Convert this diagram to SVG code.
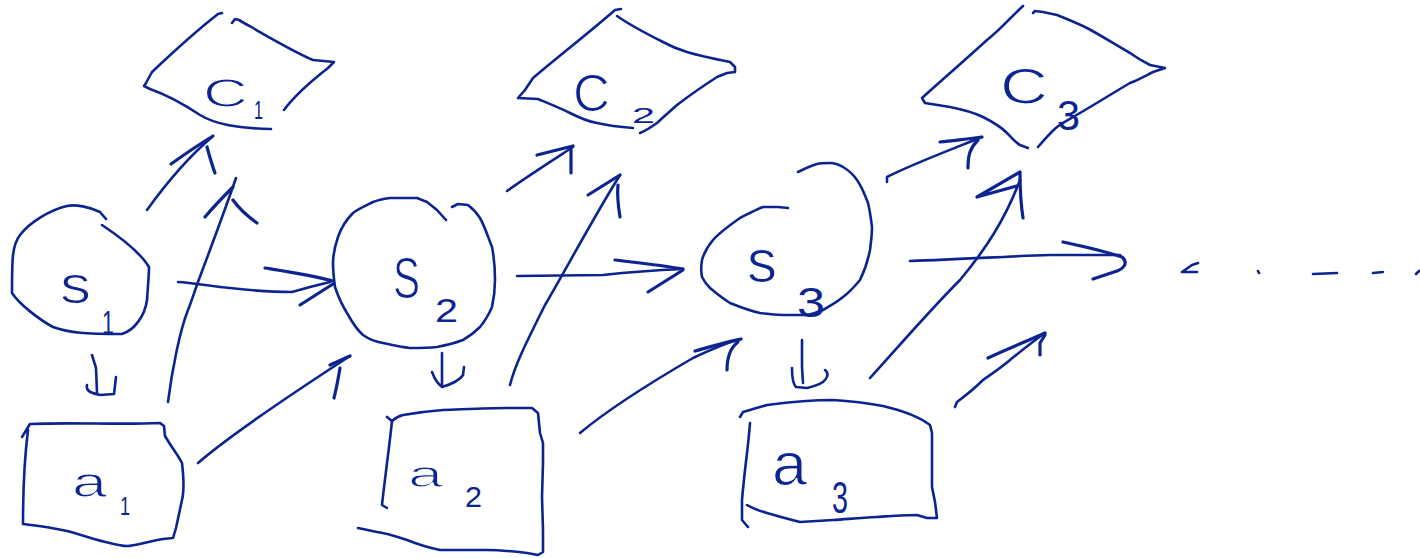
<svg xmlns="http://www.w3.org/2000/svg" width="1420" height="558" viewBox="0 0 1420 558">
<style>
.ink{fill:none;stroke:#0c2490;stroke-width:2.6;stroke-linecap:round;stroke-linejoin:round}
.head{fill:none;stroke:#0c2490;stroke-width:3.2;stroke-linecap:round;stroke-linejoin:round}
.lbl{fill:#0c2490;font-family:"Liberation Sans","DejaVu Sans",sans-serif;font-weight:normal}
.big{stroke:#ffffff;stroke-width:1.1}
</style>
<rect width="1420" height="558" fill="#ffffff"/>
<g id="c1">
<path class="ink" d="M222,13 L218,14 C200,28 170,55 152,72 L146,83 L144,86 L150,89 C170,96 185,105 200,115 C215,124 235,128 271,129"/>
<path class="ink" d="M232,23 L235,19 L239,20 C260,32 290,50 313,60 L334,62 L328,68 C310,82 295,95 284,110"/>
<text class="lbl big" x="203" y="107" font-size="40" textLength="45" lengthAdjust="spacingAndGlyphs">C</text>
<text class="lbl" x="254" y="119" font-size="26" textLength="9" lengthAdjust="spacingAndGlyphs">1</text>
</g>
<g id="c2">
<path class="ink" d="M621,9 L615,10 C590,32 560,55 533,78 L525,90 L518,98 L538,99 C550,104 560,108 570,113 C580,118 590,122 597,123 C610,126 620,127 633,128"/>
<path class="ink" d="M617,16 C630,25 645,33 663,42 C672,47 680,50 687,52 C700,56 715,59 730,62 L735,67 L735,72 L727,73 L717,77 C700,88 690,95 677,105 C668,113 662,118 657,123 C650,128 645,131 640,133"/>
<text class="lbl big" x="573" y="111" font-size="52" textLength="37" lengthAdjust="spacingAndGlyphs">C</text>
<text class="lbl" x="632" y="123" font-size="22" textLength="23" lengthAdjust="spacingAndGlyphs">2</text>
</g>
<g id="c3">
<path class="ink" d="M1023,6 C1010,18 1000,30 987,40 C965,60 942,80 922,98 L925,103 L950,107 C965,110 975,113 983,117 C995,123 1002,128 1007,133 C1012,138 1016,143 1020,145 L1028,148"/>
<path class="ink" d="M1033,13 L1035,11 L1043,12 L1057,15 C1067,19 1077,23 1087,28 C1102,36 1116,45 1130,53 C1137,58 1144,62 1150,65 L1165,68 L1153,72 C1145,76 1138,80 1130,83 C1113,93 1097,103 1080,113 C1072,118 1064,122 1057,127 C1050,133 1044,140 1038,147"/>
<text class="lbl big" x="1000" y="104" font-size="50" textLength="48" lengthAdjust="spacingAndGlyphs">C</text>
<text class="lbl" x="1057" y="130" font-size="42" textLength="23" lengthAdjust="spacingAndGlyphs">3</text>
</g>
<g id="s1">
<path class="ink" d="M106,219 L100,212 C90,207 75,204 67,206 C50,210 30,222 20,235 C12,245 12,260 12,293 C20,305 40,320 53,327 C70,333 85,334 122,334 C135,330 145,315 147,300 C148,285 149,275 149,267 C140,252 120,237 102,225"/>
<text class="lbl big" x="60" y="303" font-size="53" textLength="31" lengthAdjust="spacingAndGlyphs">s</text>
<text class="lbl" x="102" y="334" font-size="33" textLength="12" lengthAdjust="spacingAndGlyphs">1</text>
</g>
<g id="s2">
<path class="ink" d="M446,220 L437,210 L427,202 L417,198 L390,198 C383,199 378,200 373,202 C365,206 358,209 353,213 C346,220 341,228 338,237 C335,246 333,255 333,263 C333,272 334,280 335,287 C338,296 342,305 347,313 C352,322 357,330 363,335 C370,340 377,342 383,343 C392,345 400,347 410,348 C420,348 428,348 437,347 C447,345 455,343 463,340 C470,336 475,332 480,327 C485,321 489,314 492,307 C494,298 495,290 495,280 C495,268 494,257 492,247 C488,237 485,227 480,218 C476,212 472,208 468,205 L458,204 L452,207"/>
<text class="lbl big" x="393" y="298" font-size="57" textLength="27" lengthAdjust="spacingAndGlyphs">S</text>
<text class="lbl" x="435" y="322" font-size="33" textLength="23" lengthAdjust="spacingAndGlyphs">2</text>
</g>
<g id="s3">
<path class="ink" d="M788,208 L778,207 L763,207 C755,210 748,214 740,218 C730,225 720,232 713,240 C708,246 704,253 702,260 C701,266 701,272 702,277 C704,281 707,285 710,288 C716,293 722,298 730,303 C740,307 750,311 760,313 C770,314 778,315 787,315 L807,315 C813,314 818,312 823,310 C830,306 837,302 843,297 C850,292 855,286 860,280 C865,270 868,260 870,250 C871,242 872,235 872,227 C871,219 870,211 868,203 C865,195 862,187 857,180 C853,174 848,170 843,167 C838,164 834,163 830,163 C825,163 821,163 817,164 C810,166 804,169 798,172"/>
<text class="lbl big" x="747" y="282" font-size="62" textLength="30" lengthAdjust="spacingAndGlyphs">s</text>
<text class="lbl" x="797" y="317" font-size="42" textLength="28" lengthAdjust="spacingAndGlyphs">3</text>
</g>
<g id="a1">
<path class="ink" d="M22,437 L30,424 C70,422 120,425 160,423 L164,426 L165,436 C172,448 178,455 182,463 C184,480 184,492 182,500 L176,528 L173,538 L163,539 C145,542 135,546 127,546 C110,545 90,537 67,531 C45,526 30,525 23,524 C23,500 23,470 28,430"/>
<text class="lbl big" x="72" y="497" font-size="42" textLength="35" lengthAdjust="spacingAndGlyphs">a</text>
<text class="lbl" x="120" y="515" font-size="25" textLength="10" lengthAdjust="spacingAndGlyphs">1</text>
</g>
<g id="a2">
<path class="ink" d="M387,417 L392,421 C395,418 399,416 403,415 C420,412 430,411 443,410 C470,409 490,408 507,408 L532,408 L538,413 L540,433 L543,443 L543,463 L542,497 L543,530 L543,552 L538,555 L527,553 C510,551 500,550 487,550 L440,550 C425,547 417,544 407,540 C395,536 385,533 377,532 L358,528"/>
<path class="ink" d="M392,421 C390,440 388,455 387,463 C385,480 383,495 382,505 L387,508"/>
<text class="lbl big" x="408" y="487" font-size="37" textLength="35" lengthAdjust="spacingAndGlyphs">a</text>
<text class="lbl" x="465" y="507" font-size="30" textLength="17" lengthAdjust="spacingAndGlyphs">2</text>
</g>
<g id="a3">
<path class="ink" d="M740,417 L743,412 C752,409 760,407 767,405 C790,402 810,400 833,400 C850,401 867,403 883,406 C900,410 918,416 930,425 L932,433 L932,487 L935,502 L937,518 L927,518 L917,515 C900,515 890,516 877,517 C860,518 848,519 833,520 L800,522 C788,519 777,516 767,513 C760,511 752,508 747,505"/>
<path class="ink" d="M750,423 C749,435 748,445 747,453 C745,470 743,488 742,500 L742,520 L748,527"/>
<text class="lbl big" x="772" y="485" font-size="62" textLength="35" lengthAdjust="spacingAndGlyphs">a</text>
<text class="lbl" x="832" y="513" font-size="45" textLength="16" lengthAdjust="spacingAndGlyphs">3</text>
</g>
<g id="connectors">
<path class="ink" d="M147,210 C165,185 185,160 212,137"/>
<path class="head" d="M171,164 C185,154 198,145 213,136 M207,147 C210,158 212,165 215,173"/>
<path class="ink" d="M168,402 C172,370 180,330 188,310 C192,300 195,290 198,282 C210,250 225,210 236,178"/>
<path class="head" d="M205,217 C215,205 225,195 233,187 M233,200 C240,210 250,218 257,223"/>
<path class="ink" d="M178,282 C200,283 240,292 292,292 L310,287 L330,282"/>
<path class="head" d="M265,268 C290,272 310,275 333,281 M300,305 L333,284"/>
<path class="ink" d="M92,355 L96,368 L97,393 M87,385 C85,392 95,394 100,395 L114,394 L116,377"/>
<path class="ink" d="M198,463 C230,435 290,395 350,356"/>
<path class="head" d="M330,365 L350,356 M340,368 C338,380 336,390 334,398"/>
<path class="ink" d="M442,353 L442,387 M432,372 C435,380 438,384 442,387 C452,384 460,380 463,375 L464,367"/>
<path class="ink" d="M507,191 C525,178 550,162 573,147"/>
<path class="head" d="M537,155 L573,146 M571,150 L571,173"/>
<path class="ink" d="M510,385 C515,365 525,345 545,305 C570,262 595,215 620,175"/>
<path class="head" d="M588,195 L620,175 M618,185 C617,195 618,205 620,217"/>
<path class="ink" d="M517,276 L603,275 C630,272 660,270 683,269"/>
<path class="head" d="M615,260 C640,263 660,265 683,269 M648,292 L683,270"/>
<path class="ink" d="M580,433 C610,408 650,383 693,358 C710,350 725,343 741,339"/>
<path class="head" d="M695,351 C710,347 725,342 741,339 M727,370 C727,358 730,348 738,342"/>
<path class="ink" d="M802,340 L802,367 L803,383 M792,368 C792,378 793,384 796,387 L807,388 C815,386 820,384 823,382 C828,378 829,373 825,370"/>
<path class="ink" d="M887,182 L887,177 C910,165 950,150 982,137"/>
<path class="head" d="M940,142 C955,140 970,139 982,137 M978,140 C970,148 968,155 968,168"/>
<path class="ink" d="M870,378 C900,345 930,310 960,280 C985,250 1005,220 1020,180"/>
<path class="head" d="M1020,185 L977,197 L1020,172 M1020,172 C1020,190 1021,205 1023,218"/>
<path class="ink" d="M910,261 C970,259 1010,256 1050,255 L1120,255"/>
<path class="head" d="M1063,242 C1085,247 1105,251 1122,257 C1128,262 1125,268 1117,271 L1093,279"/>
<path class="ink" d="M955,407 L957,402 C965,396 975,388 983,380 C993,373 1002,367 1010,360 C1020,352 1032,342 1045,333"/>
<path class="head" d="M988,358 C1005,350 1025,342 1045,333 M1045,335 L1040,343 L1040,355"/>
<path class="ink" d="M1198,263 L1192,265 L1182,272 L1197,272 M1258,271 L1259,273 M1313,274 L1337,273 M1373,273 L1383,272 M1416,274 L1419,271"/>
</g>
</svg>
